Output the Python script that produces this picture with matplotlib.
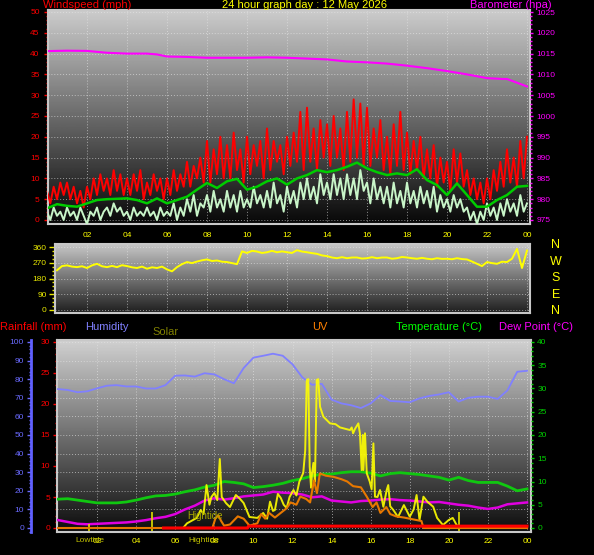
import numpy as np
import matplotlib
matplotlib.use("Agg")
import matplotlib.pyplot as plt
from matplotlib.ticker import MultipleLocator

plt.rcParams['font.family'] = ['Liberation Sans', 'DejaVu Sans']

# ---------------- data ----------------
hour_labels = ['02', '04', '06', '08', '10', '12', '14', '16', '18', '20', '22', '00']
hour_ticks = [2, 4, 6, 8, 10, 12, 14, 16, 18, 20, 22, 24]

# wind, 10-minute samples 00:00 .. 24:00
wind_hours = np.linspace(0, 24, 145)
wind_gust = [7, 4, 8, 5, 9, 6,
             9, 5, 8, 4, 7, 3,
             8, 5, 10, 6, 11, 7,
             10, 6, 12, 7, 11, 6,
             10, 6, 11, 7, 12, 5,
             9, 6, 11, 7, 10, 5,
             10, 6, 12, 7, 11, 8,
             14, 8, 13, 10, 15, 9,
             19, 9, 17, 11, 20, 10,
             18, 10, 21, 12, 17, 9,
             20, 11, 18, 13, 19, 10,
             22, 12, 19, 14, 18, 11,
             20, 13, 21, 14, 26, 12,
             27, 14, 22, 12, 24, 15,
             23, 13, 25, 15, 22, 12,
             26, 14, 29, 15, 28, 13,
             27, 13, 22, 15, 24, 12,
             20, 11, 23, 13, 26, 12,
             21, 11, 19, 12, 20, 10,
             17, 10, 18, 8, 15, 9,
             14, 7, 17, 9, 16, 8,
             12, 6, 10, 5, 9, 4,
             10, 5, 12, 7, 14, 8,
             17, 9, 15, 8, 19, 10,
             20]
wind_speed = [2, 0, 3, 1, 2, 0,
              3, 1, 2, 0, 3, 1,
              -1, 2, 1, 3, 0, 2,
              3, 1, 4, 2, 3, 1,
              2, 0, 3, 1, 2, 1,
              3, 1, 2, 0, 3, 1,
              2, 1, 4, 0, 3, 1,
              5, 2, 6, 1, 4, 3,
              6, 2, 7, 3, 5, 2,
              7, 3, 6, 2, 7, 3,
              5, 3, 8, 4, 6, 3,
              7, 3, 9, 4, 6, 2,
              8, 4, 7, 3, 9, 5,
              10, 5, 8, 4, 11, 6,
              9, 5, 11, 6, 10, 5,
              11, 6, 10, 5, 12, 7,
              9, 4, 10, 5, 8, 4,
              8, 3, 9, 4, 7, 3,
              9, 4, 7, 3, 8, 4,
              7, 3, 8, 2, 6, 3,
              5, 2, 6, 3, 5, 2,
              3, 0, 2, -1, 2, 0,
              4, 1, 3, 0, 4, 1,
              5, 2, 4, 1, 6, 2,
              4]

# half-hourly series
half_hours = np.linspace(0, 24, 49)
wind_avg = [2.8, 3.8, 3.4, 3.2, 4.0, 4.8, 5.0, 5.1, 5.2, 4.8, 4.0, 5.2, 4.0, 4.8,
            5.6, 7.3, 8.9, 7.7, 9.3, 9.9, 7.3, 8.0, 9.3, 10.0, 8.5, 10.0, 10.8,
            12.0, 11.5, 12.0, 12.8, 13.8, 12.4, 11.5, 10.8, 11.2, 10.8, 12.2, 9.6,
            8.4, 6.0, 8.8, 6.0, 3.2, 3.2, 4.8, 6.0, 8.0, 8.2]

baro_hours = [0, 1, 2, 3, 4, 5, 5.5, 6, 7, 8, 9, 10, 11, 12, 13, 14, 15, 16, 17,
              18, 19, 20, 21, 22, 22.8, 23.0, 23.5, 24]
baro_hpa = [1015.6, 1015.7, 1015.65, 1015.2, 1015.0, 1015.0, 1014.8, 1014.3,
            1014.2, 1014.0, 1014.0, 1014.0, 1014.1, 1014.0, 1013.8, 1013.6,
            1013.1, 1012.9, 1012.6, 1012.1, 1011.5, 1010.8, 1010.0, 1009.1,
            1008.9, 1008.9, 1008.0, 1007.1]

# wind direction, 15-minute samples 00:30 .. 24:00
dir_hours = np.linspace(0.5, 24, 95)
wind_dir = [227, 251,
            255, 248, 245, 250,
            240, 255, 264, 250,
            245, 252, 245, 256,
            251, 244, 240, 248,
            236, 244, 240, 248,
            232, 221, 245, 262,
            274, 268, 277, 284,
            289, 280, 283, 276,
            274, 268, 262, 335,
            326, 338, 334, 326,
            330, 338, 330, 335,
            330, 326, 342, 334,
            330, 325, 321, 312,
            308, 300, 296, 302,
            296, 300, 300, 294,
            296, 302, 296, 300,
            300, 293, 296, 303,
            300, 296, 293, 298,
            293, 290, 296, 292,
            293, 290, 296, 291,
            289, 277, 264, 251,
            274, 268, 264, 276,
            274, 293, 349, 240,
            340]

humidity = [74.7, 74.2, 73.0, 73.5, 75.1, 76.5, 76.8, 76.1, 76.1, 75.0, 75.0,
            76.8, 81.9, 82.0, 81.4, 83.2, 82.6, 80.0, 77.8, 86.0, 91.6, 92.6,
            93.7, 92.6, 88.0, 81.0, 77.0, 77.5, 69.0, 67.0, 66.0, 64.5, 67.0,
            71.5, 68.3, 68.0, 67.6, 69.7, 71.0, 71.8, 73.0, 68.0, 70.0, 70.6,
            70.6, 69.4, 74.0, 84.0, 84.5]
temperature = [6.2, 6.3, 6.0, 5.7, 5.4, 5.4, 5.4, 5.6, 6.0, 6.5, 6.9, 7.0, 7.3,
               7.8, 8.2, 8.8, 9.2, 10.0, 9.8, 9.5, 8.7, 8.9, 9.2, 9.6, 10.2,
               10.6, 11.2, 11.6, 11.6, 11.9, 12.1, 12.1, 11.8, 11.2, 11.7, 11.9,
               11.7, 11.5, 11.2, 10.9, 10.3, 10.9, 10.2, 9.8, 9.8, 9.8, 9.0, 8.0,
               8.4]
dew_point = [1.7, 1.3, 0.9, 0.8, 0.9, 1.0, 1.1, 1.2, 1.4, 1.7, 2.1, 2.4, 3.0,
             4.0, 4.8, 5.9, 6.4, 6.1, 6.4, 6.8, 7.0, 7.2, 7.8, 7.6, 7.5, 7.2,
             6.6, 6.8, 5.9, 5.7, 5.5, 5.8, 5.9, 6.1, 6.2, 6.0, 5.9, 5.7, 5.5,
             5.6, 5.3, 5.0, 4.8, 4.4, 4.1, 4.4, 5.1, 5.3, 5.5]

rain_hours = [5.4, 9.7, 9.75, 24]
rain_mm = [0, 0, 0.3, 0.3]

solar_hours = [0, 6.4, 6.6, 7.1, 7.3, 7.45, 7.6, 7.75, 7.85, 8.0, 8.15, 8.28,
               8.38, 8.6, 8.8, 9.1, 9.3, 9.5, 9.8, 10.2, 10.5, 10.7, 10.85, 11.0,
               11.1, 11.25, 11.4, 11.55, 11.7, 11.85, 12.05, 12.2, 12.35, 12.55,
               12.65, 12.73, 12.81, 12.88, 12.95, 13.0, 13.07, 13.15, 13.24,
               13.32, 13.41, 13.58, 13.92, 14.2, 14.43, 14.7, 14.94, 15.03, 15.1,
               15.2, 15.37, 15.45, 15.54, 15.6, 15.63, 15.71, 15.8, 15.95, 16.05,
               16.14, 16.22, 16.35, 16.48, 16.65, 16.82, 16.9, 17.0, 17.16, 17.4,
               17.7, 18.0, 18.2, 18.35, 18.5, 18.7, 18.9, 19.2, 19.4, 19.7, 20.0,
               20.2, 20.4, 20.6, 24]
solar_wm2 = [0, 0, 30, 65, 116, 90, 277, 150, 200, 226, 180, 445, 200, 160, 135,
             213, 190, 161, 71, 65, 97, 60, 170, 110, 116, 220, 194, 150, 129,
             200, 245, 210, 299, 355, 500, 955, 960, 396, 260, 353, 420, 300,
             955, 960, 782, 718, 675, 670, 649, 640, 632, 649, 611, 640, 675,
             611, 374, 600, 374, 611, 353, 300, 250, 546, 202, 200, 245, 137,
             245, 277, 140, 116, 71, 148, 73, 120, 213, 52, 202, 170, 137, 65,
             19, 52, 65, 19, 0, 0]

uv_hours = [0, 7.9, 8.05, 8.2, 8.35, 8.5, 8.8, 9.2, 9.5, 9.8, 10.2, 10.4, 10.6,
            10.8, 11.1, 11.4, 11.7, 11.9, 12.2, 12.4, 12.7, 12.9, 13.1, 13.25,
            13.4, 13.7, 14.1, 14.5, 14.8, 15.1, 15.5, 15.8, 16.1, 16.3, 16.5,
            16.8, 17.0, 17.3, 17.7, 18.0, 18.3, 18.6, 18.7, 24]
uv_index = [0, 0, 0.8, 1.1, 0.6, 0.2, 0.3, 1.0, 0.8, 0.2, 0.4, 1.2, 0.8, 1.3,
            0.9, 1.3, 1.7, 2.2, 2.0, 2.7, 2.5, 2.2, 4.1, 3.0, 4.7, 4.5, 4.4, 4.2,
            4.0, 3.6, 3.5, 2.7, 1.8, 2.2, 1.3, 1.8, 1.2, 1.0, 0.9, 0.8, 0.7, 0.6,
            0, 0]

tide_hours = [1.6, 4.8, 20.5]
tide_marks = [26, 103, 103]

# ---------------- layout helpers ----------------
W, H, DPI = 594, 555, 100


def rect(l, t, r, b):
    return [l / W, 1 - b / H, (r - l) / W, (b - t) / H]


def lim(p_lo, p_hi, p0, p1, v0, v1):
    k = (v1 - v0) / (p1 - p0)
    return (v0 + (p_lo - p0) * k, v0 + (p_hi - p0) * k)


def gradient(ax, top, bottom):
    g = np.linspace(top, bottom, 256).reshape(-1, 1)
    ax.imshow(g, cmap='gray', vmin=0, vmax=1, aspect='auto', extent=[0, 1, 0, 1],
              transform=ax.transAxes, zorder=0, interpolation='bilinear')


def frame(ax):
    for s in ax.spines.values():
        s.set_color('#c8c8c8')
        s.set_linewidth(1.5)


def hide_spines(ax):
    for s in ax.spines.values():
        s.set_visible(False)


GRID = dict(color='#e8e8e8', linestyle=(0, (1, 2)), linewidth=0.7, alpha=0.6)

fig = plt.figure(figsize=(W / DPI, H / DPI), dpi=DPI, facecolor='black')

# ---------------- top: wind & barometer ----------------
axw = fig.add_axes(rect(48, 10, 530, 224))
gradient(axw, 0.80, 0.03)
frame(axw)
axw.plot(wind_hours, wind_gust, color='#ff0000', lw=1.4, zorder=3)
axw.plot(wind_hours, wind_speed, color='#c8f5c8', lw=1.4, zorder=4)
axw.plot(half_hours, wind_avg, color='#00cc00', lw=1.8, zorder=5)
axw.set_xlim(lim(48, 530, 47, 527, 0, 24))
axw.set_ylim(lim(224, 10, 220, 12, 0, 50))
axw.set_xticks(hour_ticks)
axw.set_xticklabels(hour_labels)
axw.yaxis.set_major_locator(MultipleLocator(5))
axw.yaxis.set_minor_locator(MultipleLocator(1))
axw.tick_params(axis='x', colors='#ffff00', length=0, pad=6, labelsize=6)
axw.tick_params(axis='y', which='major', colors='#ff0000', length=3, width=1, pad=3, labelsize=6)
axw.tick_params(axis='y', which='minor', colors='#ff0000', length=1.5, width=1)
axw.grid(True, **GRID)

axp = axw.twinx()
hide_spines(axp)
axp.plot(baro_hours, baro_hpa, color='#ff00ff', lw=1.5, zorder=3)
axp.set_ylim(lim(224, 10, 220, 12, 975, 1025))
axp.yaxis.set_major_locator(MultipleLocator(5))
axp.yaxis.set_minor_locator(MultipleLocator(1))
axp.tick_params(axis='y', which='major', colors='#ff00ff', length=2.5, width=1, pad=2, labelsize=6)
axp.tick_params(axis='y', which='minor', colors='#ff00ff', length=1.5, width=1)

fig.text(43 / W, 1 - 5 / H, 'Windspeed (mph)', color='#ff0000', fontsize=8, va='center', ha='left')
fig.text(304 / W, 1 - 5 / H, '24 hour graph day : 12 May 2026', color='#ffff00', fontsize=8,
         va='center', ha='center')
fig.text(470 / W, 1 - 5 / H, 'Barometer (hpa)', color='#ff00ff', fontsize=8, va='center', ha='left')

# ---------------- middle: wind direction ----------------
axd = fig.add_axes(rect(55, 244, 530, 313))
gradient(axd, 0.78, 0.12)
frame(axd)
axd.plot(dir_hours, wind_dir, color='#ffff00', lw=1.4, zorder=3)
axd.set_xlim(lim(55, 530, 47, 527, 0, 24))
axd.set_ylim(lim(313, 244, 310, 247, 0, 360))
axd.set_yticks([0, 90, 180, 270, 360])
axd.yaxis.set_minor_locator(MultipleLocator(22.5))
axd.set_xticks(hour_ticks)
axd.set_xticklabels([])
axd.tick_params(axis='x', length=0)
axd.tick_params(axis='y', which='major', colors='#e8e800', length=4, width=1, pad=2, labelsize=6)
axd.tick_params(axis='y', which='minor', colors='#e8e800', length=2, width=1)
axd.grid(True, **GRID)

for lbl, yp in zip(['N', 'W', 'S', 'E', 'N'], [245, 262, 278, 295, 311]):
    fig.text(556 / W, 1 - yp / H, lbl, color='#ffff00', fontsize=9, va='center', ha='center')

# ---------------- bottom: rain, humidity, solar, UV, temp, dew ----------------
axb = fig.add_axes(rect(57, 340, 531, 532))
gradient(axb, 0.82, 0.05)
frame(axb)
axb.set_xlim(lim(57, 531, 58, 527, 0, 24))
axb.set_ylim(lim(532, 340, 528, 342, 0, 30))
axb.set_xticks(hour_ticks)
axb.set_xticklabels(hour_labels)
axb.yaxis.set_major_locator(MultipleLocator(5))
axb.yaxis.set_minor_locator(MultipleLocator(1))
axb.tick_params(axis='x', colors='#ffff00', length=0, pad=4, labelsize=6)
axb.tick_params(axis='y', which='major', colors='#ff0000', length=3, width=1, pad=2, labelsize=6)
axb.tick_params(axis='y', which='minor', colors='#ff0000', length=1.5, width=1)
axb.grid(True, axis='x', **GRID)

ax_h = axb.twinx()
hide_spines(ax_h)
ax_h.spines['left'].set_visible(True)
ax_h.spines['left'].set_position(('axes', (31 - 57) / 474))
ax_h.spines['left'].set_color('#6060ff')
ax_h.spines['left'].set_linewidth(2)
ax_h.yaxis.set_ticks_position('left')
ax_h.yaxis.set_label_position('left')
ax_h.set_ylim(lim(532, 340, 528, 342, 0, 100))
ax_h.yaxis.set_major_locator(MultipleLocator(10))
ax_h.yaxis.set_minor_locator(MultipleLocator(2))
ax_h.tick_params(axis='y', which='major', colors='#6a6aff', length=3, width=1, pad=2, labelsize=6)
ax_h.tick_params(axis='y', which='minor', colors='#6a6aff', length=1.5, width=1)
ax_h.grid(True, axis='y', **GRID)
ax_h.plot(half_hours, humidity, color='#8080ff', lw=1.3, zorder=3)

ax_t = axb.twinx()
hide_spines(ax_t)
ax_t.set_ylim(lim(532, 340, 528, 342, 0, 40))
ax_t.yaxis.set_major_locator(MultipleLocator(5))
ax_t.yaxis.set_minor_locator(MultipleLocator(1))
ax_t.tick_params(axis='y', which='major', colors='#00d000', length=2.5, width=1, pad=2, labelsize=6)
ax_t.tick_params(axis='y', which='minor', colors='#00d000', length=1.5, width=1)
ax_t.plot(half_hours, temperature, color='#10c810', lw=2.0, zorder=3)
ax_t.plot(half_hours, dew_point, color='#e000e0', lw=1.8, zorder=3)

ax_s = axb.twinx()
hide_spines(ax_s)
ax_s.yaxis.set_visible(False)
ax_s.set_ylim(lim(532, 340, 528, 342, 0, 1200))
ax_s.plot(solar_hours, solar_wm2, color='#ffff00', lw=1.4, alpha=0.9, zorder=3)
ax_s.vlines(tide_hours, -20, tide_marks, color='#e0e000', lw=1.2, zorder=3)

ax_uv = axb.twinx()
hide_spines(ax_uv)
ax_uv.yaxis.set_visible(False)
ax_uv.set_ylim(lim(532, 340, 528, 342, 0, 16))
ax_uv.plot(uv_hours, uv_index, color='#e87800', lw=1.5, zorder=3)

ax_r = axb.twinx()
hide_spines(ax_r)
ax_r.yaxis.set_visible(False)
ax_r.set_ylim(lim(532, 340, 528, 342, 0, 30))
ax_r.plot(rain_hours, rain_mm, color='#ff0000', lw=2.2, zorder=3)

fig.text(187 / W, 1 - 516 / H, 'Hightide', color='#a8a800', fontsize=7, va='center', ha='left')
fig.text(75 / W, 1 - 541 / H, 'Lowtide', color='#c0c000', fontsize=6, va='center', ha='left')
fig.text(188 / W, 1 - 541 / H, 'Hightide', color='#c0c000', fontsize=6, va='center', ha='left')

fig.text(0 / W, 1 - 327 / H, 'Rainfall (mm)', color='#ff0000', fontsize=8, va='center', ha='left')
fig.text(85 / W, 1 - 327 / H, 'Humidity', color='#8080ff', fontsize=8, va='center', ha='left')
fig.text(152 / W, 1 - 332 / H, 'Solar', color='#808000', fontsize=8, va='center', ha='left')
fig.text(312 / W, 1 - 327 / H, 'UV', color='#ff8000', fontsize=8, va='center', ha='left')
fig.text(396 / W, 1 - 327 / H, 'Temperature (\u00b0C)', color='#00ff00', fontsize=8, va='center', ha='left')
fig.text(499 / W, 1 - 327 / H, 'Dew Point (\u00b0C)', color='#ff00ff', fontsize=8, va='center', ha='left')

fig.savefig('out.png', dpi=DPI, facecolor='black')
